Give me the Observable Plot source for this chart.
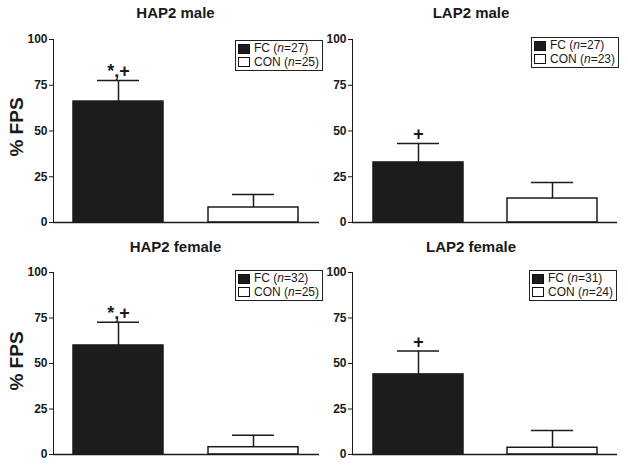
<!DOCTYPE html>
<html>
<head>
<meta charset="utf-8">
<script src="https://cdn.jsdelivr.net/npm/d3@7"></script>
<script src="https://cdn.jsdelivr.net/npm/@observablehq/plot@0.6"></script>
<style>
  html, body { margin: 0; padding: 0; background: #fff; }
  #wrap { position: relative; width: 628px; height: 468px; overflow: hidden; font-family: "Liberation Sans", Arial, sans-serif; color: #1a1a1a; }
  .panel { position: absolute; }
  #wrap svg text { font-weight: 700 !important; }
  .title { position: absolute; width: 220px; text-align: center; font-weight: bold; font-size: 15px; line-height: 15px; white-space: nowrap; }
  .ylab { position: absolute; width: 100px; text-align: center; font-weight: bold; font-size: 19px; line-height: 19px; transform: translate(-50%, -50%) rotate(-90deg); white-space: nowrap; }
  .legend { position: absolute; border: 1.5px solid #222; padding: 1px 3px 1px 2px; font-size: 12px; line-height: 13.5px; background: #fff; white-space: nowrap; }
  .legend .row { display: flex; align-items: center; height: 13.5px; }
  .legend .sw { width: 12px; height: 10px; border: 1.2px solid #111; margin-right: 4px; box-sizing: border-box; }
</style>
</head>
<body>
<div id="wrap"></div>
<script>
const panels = ["HAP2 male", "LAP2 male", "HAP2 female", "LAP2 female"];
const groups = ["FC", "CON"];
const meanFC = [66.1, 32.8, 59.9, 44.0];
const meanCON = [8.2, 13.1, 4.0, 3.7];
const errFC = [11.5, 10.4, 12.8, 12.8];
const errCON = [7.1, 8.8, 6.6, 9.5];
const nFC = [27, 27, 32, 31];
const nCON = [25, 23, 25, 24];
const sigFC = ["*,+", "+", "*,+", "+"];
const yTicks = [0, 25, 50, 75, 100];
const groupColors = ["#1c1c1c", "#ffffff"];

const font = '"Liberation Sans", Arial, sans-serif';
const wrap = document.getElementById("wrap");

const layout = [
  {left: 0,   top: 0,   width: 320, ml: 53, mr: 1,  mt: 39, mb: 12, tc: 175.5, tt: 5,   lgx: 235, lgy: 40},
  {left: 314, top: 0,   width: 314, ml: 38, mr: 11, mt: 39, mb: 12, tc: 471,   tt: 5,   lgx: 531, lgy: 37},
  {left: 0,   top: 234, width: 320, ml: 53, mr: 1,  mt: 38, mb: 14, tc: 175.5, tt: 239, lgx: 235, lgy: 270},
  {left: 314, top: 234, width: 314, ml: 38, mr: 11, mt: 38, mb: 14, tc: 471,   tt: 239, lgx: 529, lgy: 270}
];

panels.forEach((name, i) => {
  const L = layout[i];
  const data = [
    {group: "FC", mean: meanFC[i], err: errFC[i], sig: sigFC[i]},
    {group: "CON", mean: meanCON[i], err: errCON[i], sig: ""}
  ];
  const chart = Plot.plot({
    width: L.width,
    height: 234,
    marginLeft: L.ml,
    marginRight: L.mr,
    marginTop: L.mt,
    marginBottom: L.mb,
    style: {background: "transparent", fontFamily: font, fontSize: "12px", fontWeight: "bold", color: "#1a1a1a", overflow: "visible"},
    x: {domain: groups, axis: null, paddingInner: 0.33, paddingOuter: 0.15},
    y: {domain: [0, 100], ticks: yTicks, tickSize: 4, tickPadding: 2, line: true, label: null},
    color: {domain: groups, range: groupColors},
    marks: [
      Plot.ruleX(data, {x: "group", y1: "mean", y2: d => d.mean + d.err, stroke: "#1a1a1a", strokeWidth: 1.5}),
      Plot.barY(data, {x: "group", y: "mean", fill: "group", stroke: "#1a1a1a", strokeWidth: 1.5}),
      Plot.tickY(data, {x: "group", y: d => d.mean + d.err, insetLeft: 24, insetRight: 24, stroke: "#1a1a1a", strokeWidth: 1.5}),
      Plot.text(data, {x: "group", y: d => d.mean + d.err, text: "sig", dy: -3, lineAnchor: "bottom", fontWeight: "bold", fontSize: 18, fill: "#1a1a1a"}),
      Plot.ruleY([0], {stroke: "#1a1a1a", strokeWidth: 1.5})
    ]
  });
  chart.classList.add("panel");
  chart.style.left = L.left + "px";
  chart.style.top = L.top + "px";
  wrap.appendChild(chart);

  const t = document.createElement("div");
  t.className = "title";
  t.textContent = name;
  t.style.left = (L.tc - 110) + "px";
  t.style.top = L.tt + "px";
  wrap.appendChild(t);

  const lg = document.createElement("div");
  lg.className = "legend";
  lg.style.left = L.lgx + "px";
  lg.style.top = L.lgy + "px";
  const ns = [nFC[i], nCON[i]];
  groups.forEach((g, k) => {
    const row = document.createElement("div");
    row.className = "row";
    const sw = document.createElement("div");
    sw.className = "sw";
    sw.style.background = groupColors[k];
    const lab = document.createElement("span");
    lab.innerHTML = `${g} (<i>n</i>=${ns[k]})`;
    row.appendChild(sw);
    row.appendChild(lab);
    lg.appendChild(row);
  });
  wrap.appendChild(lg);

  if (L.left === 0) {
    const yl = document.createElement("div");
    yl.className = "ylab";
    yl.textContent = "% FPS";
    yl.style.left = "15.5px";
    yl.style.top = (L.top + 127) + "px";
    wrap.appendChild(yl);
  }
});
</script>
</body>
</html>
